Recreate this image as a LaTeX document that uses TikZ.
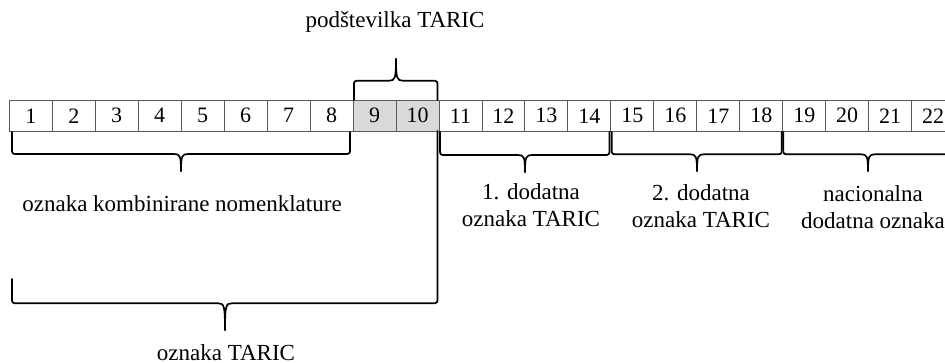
\documentclass[tikz,border=0pt]{standalone}
\usepackage{fontspec}
\setmainfont{Liberation Serif}
\newcommand\bracegen[8]{%
  \draw[bracestroke] ({#1},{#3}) -- ({#1},{#5-6*(#8)}) .. controls ({#1},{#5}) .. ({#1+6},{#5}) -- ({#7-7},{#5}) .. controls ({#7-1},{#5}) and ({#7},{#5+2*(#8)}) .. ({#7},{#6});
  \draw[bracestroke] ({#2},{#4}) -- ({#2},{#5-6*(#8)}) .. controls ({#2},{#5}) .. ({#2-6},{#5}) -- ({#7+7},{#5}) .. controls ({#7+1},{#5}) and ({#7},{#5+2*(#8)}) .. ({#7},{#6});
}
\tikzset{
  cell/.style={draw=black!65, line width=0.9pt, minimum width=42.97pt, minimum height=30.5pt, inner sep=0pt, outer sep=0pt, font=\fontsize{22}{26}\selectfont},
  bracestroke/.style={draw=black, line width=1.7pt, line cap=round, line join=round},
  lbl/.style={align=center, inner sep=0pt, anchor=base, font=\fontsize{23}{27}\selectfont}
}
\begin{document}
\begin{tikzpicture}[x=1pt, y=-1pt]
\useasboundingbox (0,0) rectangle (945,362);
\fill[white] (0,0) rectangle (945,362);
\foreach \i in {1,...,22}{
  \ifnum\i=9 \def\fc{black!15}\else\ifnum\i=10 \def\fc{black!15}\else\def\fc{white}\fi\fi
  \node[cell, fill=\fc] (c\i) at ({9.3+(\i-0.5)*42.97},115.75) {\raisebox{-2pt}{\i}};
}
% braces
\bracegen{12}{350}{132}{132}{154}{171}{181}{1}
\bracegen{354}{437.5}{100}{100}{80.7}{59}{396}{-1}
\bracegen{440}{609.5}{132}{132}{155}{172}{525}{1}
\bracegen{611.7}{781.7}{132}{132}{154.3}{171}{697}{1}
\bracegen{783.3}{953}{132}{132}{154.3}{171}{868}{1}
\bracegen{12}{437.5}{279}{131}{303.3}{330}{225}{1}
% labels
\node[lbl] (sub) at (395,27) {podštevilka TARIC};
\node[lbl] (kn) at (182,211) {oznaka kombinirane nomenklature};
\node[lbl] (t1) at (531,226) {1. dodatna\\oznaka TARIC};
\node[lbl] (t2) at (701,227) {2. dodatna\\oznaka TARIC};
\node[lbl] (nat) at (873,228) {nacionalna\\dodatna oznaka};
\node[lbl] (tar) at (226,360) {oznaka TARIC};
\end{tikzpicture}
\end{document}
